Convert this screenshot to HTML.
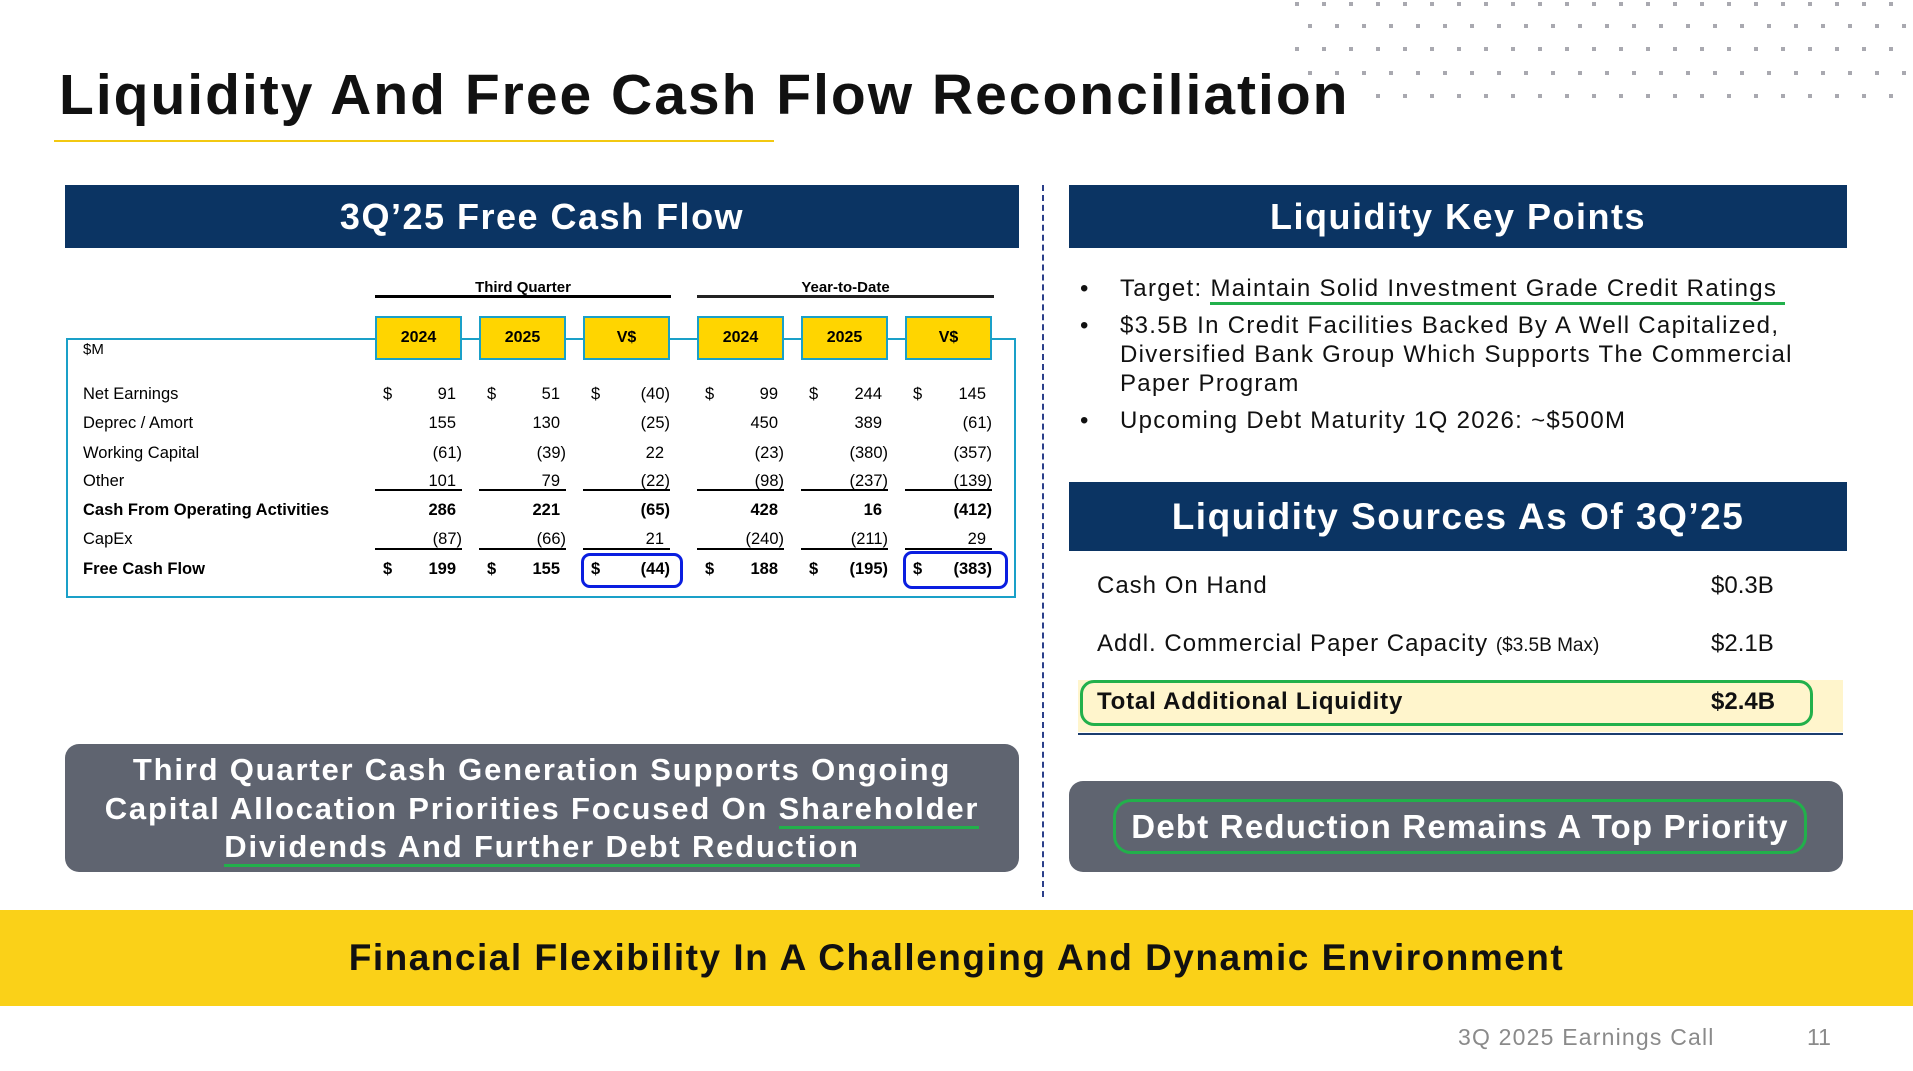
<!DOCTYPE html>
<html><head><meta charset="utf-8"><style>
*{margin:0;padding:0;box-sizing:border-box}
body{width:1913px;height:1071px;background:#fff;position:relative;overflow:hidden;font-family:"Liberation Sans",sans-serif}
.a{position:absolute}
.hdr{position:absolute;background:#0b3463;color:#fff;font-weight:bold;text-align:center;letter-spacing:1.5px}
.t{position:absolute;font-size:16.5px;color:#000;white-space:nowrap}
.r{text-align:right}
.yb{position:absolute;top:316px;height:44px;width:87px;background:#ffd500;border:2px solid #1aa0c8;font-weight:bold;font-size:16px;text-align:center;line-height:40px}
.ul{position:absolute;height:2px;background:#000;width:87px}
</style></head><body>
<svg class="a" style="left:0;top:0" width="1913" height="110">
<g fill="#a9a9b0"></g>
</svg>
<div class="a" style="left:59px;top:62px;font-size:57px;font-weight:bold;color:#111;white-space:nowrap;letter-spacing:2px">Liquidity And Free Cash Flow Reconciliation</div>
<div class="a" style="left:54px;top:140px;width:720px;height:2px;background:#f2c811"></div>

<div class="hdr" style="left:65px;top:185px;width:954px;height:63px;font-size:36px;line-height:63px">3Q’25 Free Cash Flow</div>
<div class="hdr" style="left:1069px;top:185px;width:778px;height:63px;font-size:36px;line-height:63px">Liquidity Key Points</div>
<div class="a" style="left:1042px;top:185px;height:712px;border-left:2px dashed #2b3f8a"></div>

<div class="a" style="left:66px;top:338px;width:950px;height:260px;border:2px solid #1aa0c8"></div>
<div class="t" style="left:375px;top:279px;width:296px;text-align:center;font-weight:bold;font-size:15px">Third Quarter</div>
<div class="t" style="left:697px;top:279px;width:297px;text-align:center;font-weight:bold;font-size:15px">Year-to-Date</div>
<div class="a" style="left:375px;top:295px;width:296px;height:3px;background:#000"></div>
<div class="a" style="left:697px;top:295px;width:297px;height:3px;background:#222"></div>
<div class="yb" style="left:375px">2024</div><div class="yb" style="left:479px">2025</div><div class="yb" style="left:583px">V$</div>
<div class="yb" style="left:697px">2024</div><div class="yb" style="left:801px">2025</div><div class="yb" style="left:905px">V$</div>
<div class="t" style="left:83px;top:341px;font-size:15px">$M</div>
<div id="tbl"></div>
<div class="a" style="left:581px;top:553px;width:102px;height:35px;border:3px solid #0a1ee0;border-radius:9px"></div>
<div class="a" style="left:903px;top:551px;width:105px;height:38px;border:3px solid #0a1ee0;border-radius:9px"></div>

<div class="a" style="left:65px;top:744px;width:954px;height:128px;background:#5f6470;border-radius:14px;color:#fff;font-weight:bold;font-size:31px;text-align:center;line-height:38.5px;padding-top:7px;letter-spacing:1.8px;white-space:nowrap">Third Quarter Cash Generation Supports Ongoing<br>Capital Allocation Priorities Focused On <span style="border-bottom:3px solid #22b04b">Shareholder</span><br><span style="border-bottom:3px solid #22b04b">Dividends And Further Debt Reduction</span></div>

<div class="a" style="left:1080px;top:274px;font-size:24px;color:#111;line-height:29px;width:745px;letter-spacing:1.3px">
<div style="position:relative;padding-left:40px"><span style="position:absolute;left:0">•</span>Target: <span style="border-bottom:3px solid #22b04b">Maintain Solid Investment Grade Credit Ratings&nbsp;</span></div>
<div style="position:relative;padding-left:40px;margin-top:8px"><span style="position:absolute;left:0">•</span>$3.5B In Credit Facilities Backed By A Well Capitalized, Diversified Bank Group Which Supports The Commercial Paper Program</div>
<div style="position:relative;padding-left:40px;margin-top:8px"><span style="position:absolute;left:0">•</span>Upcoming Debt Maturity 1Q 2026: ~$500M</div>
</div>
<div class="hdr" style="left:1069px;top:482px;width:778px;height:69px;font-size:37px;line-height:69px">Liquidity Sources As Of 3Q’25</div>
<div class="a" style="left:1097px;top:572px;font-size:24px;color:#111;letter-spacing:1px">Cash On Hand</div>
<div class="a" style="left:1711px;top:572px;font-size:24px;color:#111">$0.3B</div>
<div class="a" style="left:1097px;top:630px;font-size:24px;color:#111;letter-spacing:1px">Addl. Commercial Paper Capacity <span style="font-size:19px;letter-spacing:0">($3.5B Max)</span></div>
<div class="a" style="left:1711px;top:630px;font-size:24px;color:#111">$2.1B</div>
<div class="a" style="left:1078px;top:680px;width:765px;height:52px;background:#fff5cc"></div>
<div class="a" style="left:1078px;top:733px;width:765px;height:2px;background:#1b3c6e"></div>
<div class="a" style="left:1080px;top:680px;width:733px;height:46px;border:3px solid #22b04b;border-radius:14px"></div>
<div class="a" style="left:1097px;top:688px;font-size:24px;font-weight:bold;color:#111;letter-spacing:0.8px">Total Additional Liquidity</div>
<div class="a" style="left:1711px;top:688px;font-size:24px;font-weight:bold;color:#111">$2.4B</div>
<div class="a" style="left:1069px;top:781px;width:774px;height:91px;background:#5f6470;border-radius:14px"></div>
<div class="a" style="left:1113px;top:799px;width:694px;height:55px;border:3px solid #22b04b;border-radius:18px;color:#fff;font-weight:bold;font-size:33px;text-align:center;line-height:49px;letter-spacing:1.2px;white-space:nowrap">Debt Reduction Remains A Top Priority</div>

<div class="a" style="left:0;top:910px;width:1913px;height:96px;background:#fad118;font-weight:bold;font-size:37px;text-align:center;line-height:96px;color:#111;letter-spacing:1.5px">Financial Flexibility In A Challenging And Dynamic Environment</div>
<div class="a" style="left:1458px;top:1024px;font-size:23px;color:#8a8a8a;letter-spacing:1.2px">3Q 2025 Earnings Call</div>
<div class="a" style="left:1807px;top:1024px;font-size:23px;color:#8a8a8a">11</div>
<script>
var s='';
var ys=[4,26,49,73,96];
for(var r=0;r<5;r++){var x0=(r%2==0)?1297:1310;for(var x=x0;x<1913;x+=27){if(r==4&&x<1360)continue;s+='<rect x="'+(x-2)+'" y="'+(ys[r]-2)+'" width="4" height="4"/>';}}
document.querySelector('svg g').innerHTML=s;
var cols=[375,479,583,697,801,905];
var rows=[
["Net Earnings",396,0,1,["91","51","(40)","99","244","145"]],
["Deprec / Amort",425,0,0,["155","130","(25)","450","389","(61)"]],
["Working Capital",455,0,0,["(61)","(39)","22","(23)","(380)","(357)"]],
["Other",483,0,0,["101","79","(22)","(98)","(237)","(139)"]],
["Cash From Operating Activities",512,1,0,["286","221","(65)","428","16","(412)"]],
["CapEx",541,0,0,["(87)","(66)","21","(240)","(211)","29"]],
["Free Cash Flow",571,1,1,["199","155","(44)","188","(195)","(383)"]]];
var h='';
rows.forEach(function(rw){var fw=rw[2]?'bold':'normal';var top=rw[1]-11;
h+='<div class="t" style="left:83px;top:'+top+'px;font-weight:'+fw+'">'+rw[0]+'</div>';
rw[4].forEach(function(v,i){var c=cols[i];var pr=v.indexOf('(')==0?0:6;
if(rw[3])h+='<div class="t" style="left:'+(c+8)+'px;top:'+top+'px;font-weight:'+fw+'">$</div>';
h+='<div class="t r" style="left:'+c+'px;width:'+(87-pr)+'px;top:'+top+'px;font-weight:'+fw+'">'+v+'</div>';});
});
cols.forEach(function(c){h+='<div class="ul" style="left:'+c+'px;top:489px"></div><div class="ul" style="left:'+c+'px;top:548px"></div>';});
document.getElementById('tbl').innerHTML=h;
</script>
</body></html>
